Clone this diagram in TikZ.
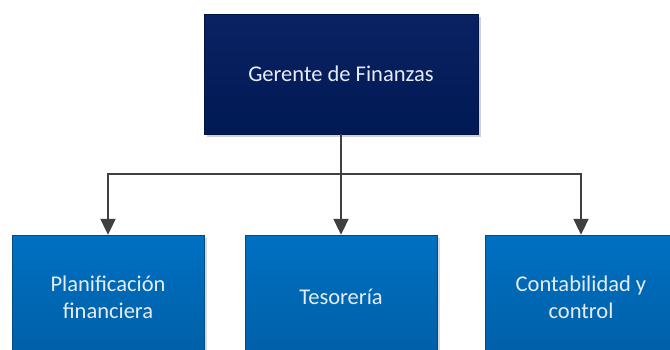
\documentclass[tikz,border=0pt]{standalone}
\usepackage{fontspec}
\setmainfont{Carlito}
\usetikzlibrary{arrows.meta,shadows}
\definecolor{navytop}{HTML}{0B2262}
\definecolor{navybot}{HTML}{001A55}
\definecolor{bluetop}{HTML}{0070C2}
\definecolor{bluebot}{HTML}{005FA6}
\definecolor{linegray}{HTML}{404040}
\definecolor{txt}{HTML}{E6ECF4}
\tikzset{
  topbox/.style={minimum width=274pt, minimum height=120pt, inner sep=0pt,
    top color=navytop, bottom color=navybot, draw=navybot!80!black, line width=0.4pt,
    text=txt, font=\fontsize{22.5}{27}\selectfont,
    drop shadow={shadow xshift=3pt, shadow yshift=-3pt, fill=black!18, opacity=1}},
  subbox/.style={minimum width=192pt, minimum height=124pt, inner sep=0pt,
    top color=bluetop, bottom color=bluebot, draw=bluebot!80!black, line width=0.4pt,
    text=txt, font=\fontsize{22.5}{27}\selectfont, align=center,
    drop shadow={shadow xshift=3pt, shadow yshift=-3pt, fill=black!15, opacity=1}},
  conn/.style={draw=linegray, line width=2pt, -{Triangle[length=16pt,width=15pt]}}
}
\begin{document}
\begin{tikzpicture}[x=1pt,y=-1pt]
\useasboundingbox (0,0) rectangle (670,349);
\node[topbox] (gm) at (341,74) {Gerente de Finanzas};
\node[subbox] (pf) at (108,297) {Planificación\\financiera};
\node[subbox] (ts) at (341,297) {Tesorería};
\node[subbox] (cc) at (581,297) {Contabilidad y\\control};
\coordinate (j) at (341,174);
\draw[conn] (gm.south) -- (ts.north);
\draw[conn] (j) -| (pf.north);
\draw[conn] (j) -| (cc.north);
\end{tikzpicture}
\end{document}
